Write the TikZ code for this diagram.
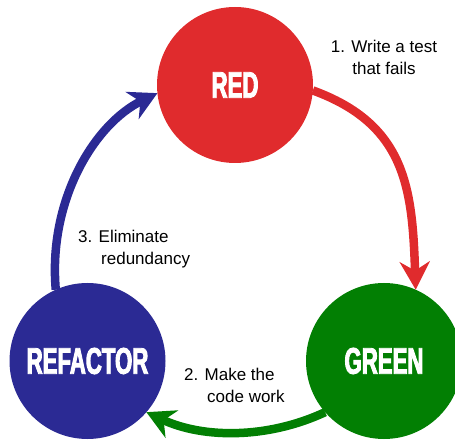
\documentclass[tikz,border=0pt]{standalone}
\usepackage{fontspec}
\setmainfont{Liberation Sans}
\newfontfamily\stagefont[FakeStretch=0.6,FakeBold=2.5]{Liberation Sans Bold}
\usetikzlibrary{arrows.meta}

\definecolor{tddred}{HTML}{E02B2D}
\definecolor{tddgreen}{HTML}{027F03}
\definecolor{tddblue}{HTML}{2B2A94}

\begin{document}
\begin{tikzpicture}[x=1pt,y=1pt,
  stage/.style={circle, minimum size=156pt, inner sep=0pt, outer sep=0pt,
    text=white, font=\stagefont\fontsize{37}{40}\selectfont},
  cyclearrow/.style={line width=8.5pt,
    -{Stealth[length=28pt,width=30pt,inset=9pt]}},
  note/.style={inner sep=0pt, font=\fontsize{17}{22}\selectfont}]
  \useasboundingbox (0,0) rectangle (455,439);
  % the three stages
  \node[stage, fill=tddred]   (red)      at (235,354)  {RED};
  \node[stage, fill=tddgreen] (green)    at (384,78)   {GREEN};
  \node[stage, fill=tddblue]  (refactor) at (87.5,78)  {REFACTOR};
  % arrows round the cycle
  \draw[cyclearrow, tddred]   (red.-4)      .. controls +(-20:100) and +(92:100) .. (green.66);
  \draw[cyclearrow, tddgreen] (green.221)   .. controls +(205:63) and +(-25:63)  .. (refactor.-41);
  \draw[cyclearrow, tddblue]  (refactor.114) .. controls +(95:90) and +(206:70)  .. (red.186);
  % step labels
  \node[note, anchor=north, align=center] (write) at (384,399)
    {1. Write a test\\that fails};
  \node[note, anchor=north west, align=left] (make) at (184,71)
    {2. Make the\\\hspace*{23pt}code work};
  \node[note, anchor=north west, align=left] (eliminate) at (78,209)
    {3. Eliminate\\\hspace*{23pt}redundancy};
\end{tikzpicture}
\end{document}
